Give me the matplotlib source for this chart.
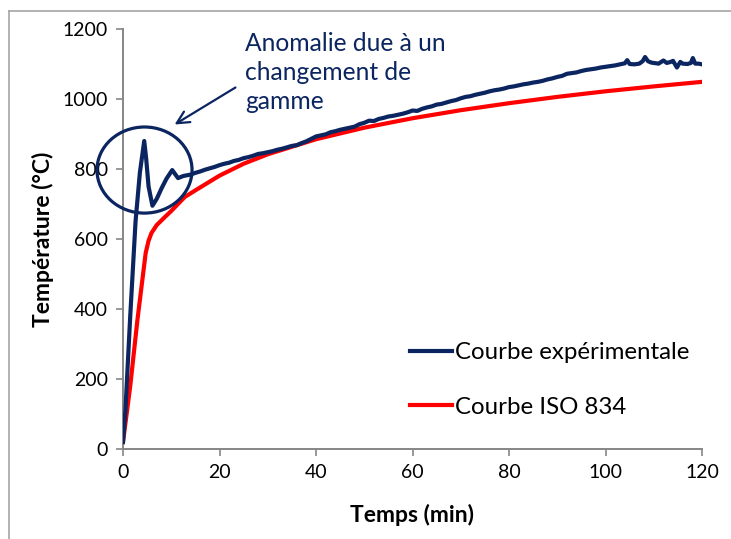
import matplotlib
matplotlib.use("Agg")
import matplotlib.pyplot as plt
from matplotlib.patches import Ellipse
from matplotlib.lines import Line2D

plt.rcParams['font.family'] = ['Lato', 'DejaVu Sans']

# Measured furnace temperature (min, °C)
exp_time = [0, 0.5, 1.5, 2.6, 3.5, 4.4, 4.8, 5.3, 6.1, 7.0, 8.0, 9.0, 10.2, 11.4, 12.5,
            14, 15, 16, 17, 18, 19, 20, 21, 22, 23, 24, 25, 26, 27, 28, 29, 30,
            31, 32, 33, 34, 35, 36, 37, 38, 39, 40, 41, 42, 43, 44, 45, 46, 47, 48,
            49, 50, 51, 52, 53, 54, 55, 56, 57, 58, 59, 60, 61, 62, 63, 64, 65, 66,
            67, 68, 69, 70, 71, 72, 73, 74, 75, 76, 77, 78, 79, 80, 81, 82, 83, 84,
            85, 86, 87, 88, 89, 90, 91, 92, 93, 94, 95, 96, 97, 98, 99, 100, 101,
            102, 103, 104, 104.5, 105, 106, 107, 107.7, 108.2, 108.8, 109.5, 110,
            111, 112, 112.7, 113.5, 114, 114.8, 115.5, 116, 117, 117.7, 118.1,
            118.6, 119.3, 120]
exp_temp = [20, 110, 380, 650, 790, 880, 830, 750, 695, 715, 745, 772, 797, 774, 780,
            784, 789, 793, 798, 802, 806, 811, 815, 818, 823, 826, 831, 834, 838, 843,
            845, 848, 851, 855, 858, 862, 866, 868, 874, 879, 886, 893, 896, 899, 905,
            908, 912, 915, 918, 921, 928, 932, 938, 937, 943, 946, 950, 952, 955, 958,
            962, 967, 966, 972, 976, 979, 984, 986, 990, 994, 997, 1002, 1006, 1008,
            1012, 1015, 1018, 1022, 1025, 1027, 1030, 1034, 1036, 1039, 1042, 1044,
            1047, 1049, 1052, 1056, 1059, 1063, 1066, 1072, 1074, 1076, 1080, 1083,
            1085, 1087, 1090, 1092, 1094, 1096, 1099, 1102, 1111, 1100, 1099, 1101,
            1108, 1120, 1108, 1104, 1103, 1101, 1110, 1103, 1106, 1109, 1090, 1106,
            1101, 1100, 1103, 1117, 1101, 1101, 1099]

# Standard ISO 834 fire curve (min, °C)
iso_time = [0, 1.5, 3, 4.7, 5.3, 5.9, 7, 8.7, 10, 12.8, 15, 20, 25, 30, 40, 50, 60,
            70, 80, 90, 100, 110, 120]
iso_temp = [20, 180, 370, 560, 595, 617, 640, 663, 680, 720, 739, 781, 815, 842, 885,
            918, 945, 968, 988, 1006, 1022, 1036, 1049]

x_ticks = [0, 20, 40, 60, 80, 100, 120]
y_ticks = [0, 200, 400, 600, 800, 1000, 1200]

navy = "#0B2560"
red = "#FF0000"
axis_grey = "#868686"

fig = plt.figure(figsize=(7.31, 5.39), dpi=100)
ax = fig.add_axes([123 / 731, 90 / 539, 579 / 731, 420 / 539])

ax.plot(exp_time, exp_temp, color=navy, lw=3.0, label="Courbe expérimentale",
        solid_joinstyle="round", zorder=3)
ax.plot(iso_time, iso_temp, color=red, lw=3.0, label="Courbe ISO 834",
        solid_joinstyle="round", zorder=2)

ax.set_xlim(0, 120)
ax.set_ylim(0, 1200)
ax.set_xticks(x_ticks)
ax.set_yticks(y_ticks)
ax.tick_params(axis="both", direction="out", length=5, width=1.2, color=axis_grey,
               labelsize=14, pad=6)
for side in ("top", "right"):
    ax.spines[side].set_visible(False)
for side in ("left", "bottom"):
    ax.spines[side].set_color(axis_grey)
    ax.spines[side].set_linewidth(1.4)

ax.set_xlabel("Temps (min)", fontsize=16.5, fontweight="bold", labelpad=16)
ax.set_ylabel("Température (°C)", fontsize=16.5, fontweight="bold", labelpad=6)

# Highlight of the range-switch artefact
ax.add_patch(Ellipse((4.46, 797), 19.7, 246, fill=False, edgecolor=navy, lw=2.3,
                     clip_on=False, zorder=4))
ax.annotate("", xy=(10.2, 923), xytext=(23.8, 1037),
            arrowprops=dict(arrowstyle="->", color=navy, lw=1.6, mutation_scale=22))
ax.text(25.3, 1190, "Anomalie due à un\nchangement de\ngamme", color=navy,
        fontsize=17.7, va="top", ha="left", linespacing=1.29)

leg = ax.legend(loc="upper left", bbox_to_anchor=(410 / 731, 1 - 342 / 539),
                bbox_transform=fig.transFigure, frameon=False, fontsize=17.3,
                handlelength=1.75, handletextpad=0.12, labelspacing=1.4,
                borderpad=0, borderaxespad=0)

# Chart frame
fig.add_artist(Line2D([9 / 731, 1], [1 - 11 / 539, 1 - 11 / 539], color="#A6A6A6",
                      lw=1.2, transform=fig.transFigure))
fig.add_artist(Line2D([9 / 731, 9 / 731], [0, 1 - 11 / 539], color="#A6A6A6",
                      lw=1.2, transform=fig.transFigure))

fig.savefig("out.png", dpi=100)
